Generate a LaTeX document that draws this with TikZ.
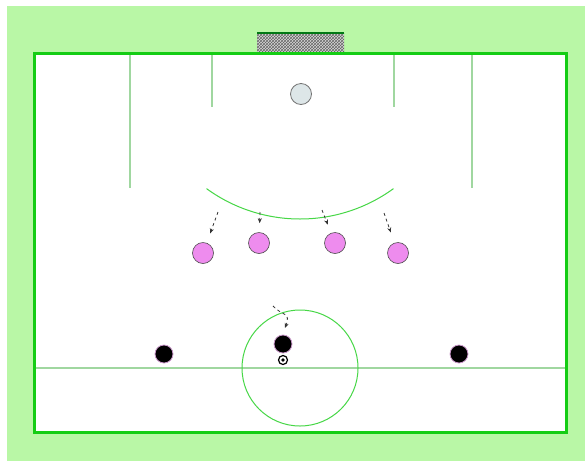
\documentclass[tikz,border=0pt]{standalone}
\usetikzlibrary{arrows.meta,patterns,calc}
\definecolor{GrassGreen}{RGB}{185,247,166}
\definecolor{LineGreen}{RGB}{20,205,20}
\definecolor{PaleGreen}{RGB}{160,215,160}
\definecolor{ArcGreen}{RGB}{70,215,70}
\definecolor{NetGreen}{RGB}{0,120,20}
\definecolor{Orchid}{RGB}{238,140,238}
\definecolor{BallGrey}{RGB}{221,230,232}
\tikzset{
	paleline/.style={PaleGreen, line width=1.2pt},
	arcline/.style={ArcGreen, line width=1pt},
	defender/.style={circle, fill=Orchid, draw=black!70, line width=0.6pt, minimum size=21pt, inner sep=0pt},
	attacker/.style={circle, fill=black, draw=violet!40, line width=0.8pt, minimum size=18pt, inner sep=0pt},
	run/.style={-{Stealth[length=5pt,width=4pt]}, dashed, black!80, line width=0.8pt}
}
\begin{document}
\begin{tikzpicture}[x=1pt, y=-1pt]
		\useasboundingbox (0,0) rectangle (585,461);
		\fill[GrassGreen] (7,6) rectangle (585,461);
		\coordinate (TL) at (34,53);
		\coordinate (BR) at (566,432);
		\fill[white] (TL) rectangle (BR);
		% goal with net
		\fill[black!15] (257,33) rectangle (344,53);
		\fill[pattern=crosshatch, pattern color=black!60] (257,33) rectangle (344,53);
		\draw[NetGreen, line width=1.5pt] (257,33) -- (344,33);
		% penalty and goal area
		\draw[paleline] (130,53) -- (130,188);
		\draw[paleline] (472,53) -- (472,188);
		\draw[paleline] (212,53) -- (212,107);
		\draw[paleline] (394,53) -- (394,107);
		\coordinate (S) at (300,60);
		\draw[arcline] ($(S)+(126:159)$) arc[start angle=126, end angle=54, radius=159];
		% halfway line and centre circle
		\coordinate (M) at (300,368);
		\draw[paleline] (34,368) -- (566,368);
		\draw[arcline] (M) circle (58);
		\draw[LineGreen, line width=3pt] (TL) rectangle (BR);
		% ball
		\node[circle, fill=BallGrey, draw=black!55, line width=0.8pt, minimum size=21pt, inner sep=0pt] (ball) at (301,94) {};
		% defenders and their runs
		\foreach \p/\x/\y in {d1/203/253, d2/259/243, d3/335/243, d4/398/253}
		\node[defender] (\p) at (\x,\y) {};
		\foreach \p/\x/\y in {a1/218/212, a2/260/212, a3/322/210, a4/384/213}
		\coordinate (\p) at (\x,\y);
		\draw[run] (a1) -- (d1) [shorten >=10pt];
		\draw[run] (a2) -- (d2) [shorten >=9pt];
		\draw[run] (a3) -- (d3) [shorten >=9pt];
		\draw[run] (a4) -- (d4) [shorten >=11pt];
		% attackers
		\foreach \p/\x/\y in {p1/164/354, p2/283/344, p3/459/354}
		\node[attacker] (\p) at (\x,\y) {};
		\node[circle, fill=white, draw=black, line width=1.2pt, minimum size=9pt, inner sep=0pt] (kick) at (283,360) {};
		\fill (kick) circle (1.8pt);
		\coordinate (c1) at (273,306);
		\draw[run] (c1) .. controls (282,316) and (291,312) .. (285,328);
\end{tikzpicture}
\end{document}
